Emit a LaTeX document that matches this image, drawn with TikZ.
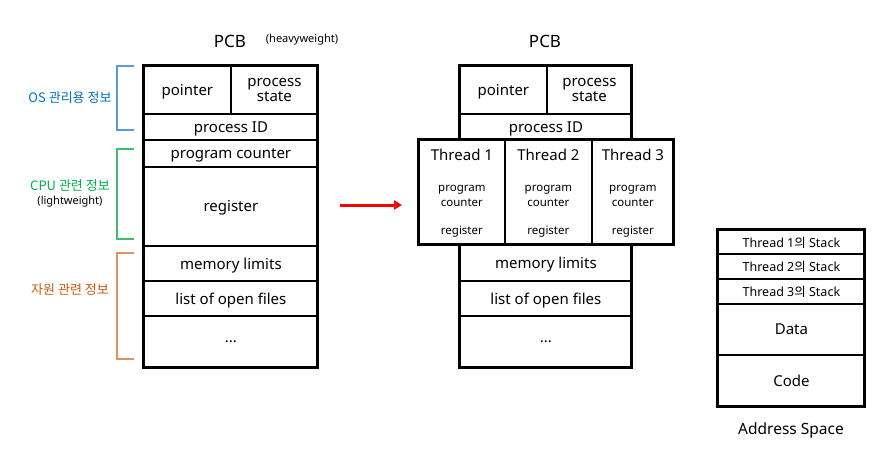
\documentclass[tikz,border=0pt]{standalone}
\usepackage{fontspec}
\setmainfont{Noto Sans}
\newfontfamily\kr{Noto Sans CJK KR}
\usetikzlibrary{arrows.meta,positioning}
\definecolor{osblue}{HTML}{0070C0}
\definecolor{osbracket}{HTML}{5B9BD5}
\definecolor{cpugreen}{HTML}{00B050}
\definecolor{cpubracket}{HTML}{3DBE6E}
\definecolor{resorange}{HTML}{C55A11}
\definecolor{resbracket}{HTML}{E0925E}
\tikzset{font=\fontsize{15}{17}\selectfont}
\tikzset{cell/.style={draw, line width=1.8pt, inner sep=0pt, anchor=north west, align=center, text depth=0pt}}
\tikzset{outline/.style={line width=3pt}}
\tikzset{small/.style={font=\fontsize{11.5}{14}\selectfont, align=center}}
\tikzset{tiny/.style={font=\fontsize{11}{12}\selectfont}}
\tikzset{stackcell/.style={cell, font=\fontsize{12.5}{15}\selectfont}}
\tikzset{krlabel/.style={font=\kr\fontsize{13}{15}\selectfont}}

\begin{document}
\begin{tikzpicture}[x=1pt,y=-1pt]
  \useasboundingbox (0,0) rectangle (888,459);
  % titles
  \node (pcbtitle) at (230,41) {\fontsize{17}{20}\selectfont PCB};
  \node[tiny] (heavy) at (302,40) {(heavyweight)};
  \node (pcbtitle2) at (545,41) {\fontsize{17}{20}\selectfont PCB};
  \node (astitle) at (791,430) {\fontsize{15.5}{18}\selectfont Address Space};

  % left PCB
  \node[cell, minimum width=87, minimum height=48] (pointer) at (143,65) {pointer};
  \node[cell, minimum width=87, minimum height=48] (state) at (230,65) {process\\[-2pt]state};
  \node[cell, minimum width=174, minimum height=26] (pid) at (143,113) {process ID};
  \node[cell, minimum width=174, minimum height=27] (pc) at (143,139) {program counter};
  \node[cell, minimum width=174, minimum height=79] (reg) at (143,166) {register};
  \node[cell, minimum width=174, minimum height=35] (mem) at (143,245) {memory limits};
  \node[cell, minimum width=174, minimum height=35] (files) at (143,280) {list of open files};
  \node[cell, minimum width=174, minimum height=52] (dots) at (143,315) {...};
  \draw[outline] (143,65) rectangle (317,367);

  % brackets
  \draw[osbracket, line width=1.5pt] (134,66) -- (117,66) -- (117,130) -- (134,130);
  \draw[cpubracket, line width=1.5pt] (134,149) -- (117,149) -- (117,239) -- (134,239);
  \draw[resbracket, line width=1.5pt] (134,253) -- (117,253) -- (117,359) -- (134,359);
  \node[krlabel, osblue] (oslabel) at (70,98) {OS 관리용 정보};
  \node[krlabel, cpugreen] (cpulabel) at (70,186) {CPU 관련 정보};
  \node[tiny] (light) at (70,202) {(lightweight)};
  \node[krlabel, resorange] (reslabel) at (70,290) {자원 관련 정보};

  % arrow
  \coordinate (arrowtail) at (340,205);
  \coordinate (arrowhead) at (402,205);
  \draw[red, line width=3pt, -{Triangle[length=8pt,width=9pt]}] (arrowtail) -- (arrowhead);

  % right PCB
  \node[cell, minimum width=87, minimum height=48] (pointer2) at (459,65) {pointer};
  \node[cell, minimum width=85, minimum height=48] (state2) at (546,65) {process\\[-2pt]state};
  \node[cell, minimum width=172, minimum height=26] (pid2) at (459,113) {process ID};
  \foreach \i/\x/\w in {1/418/86,2/504/87,3/591/82} {
    \node[cell, minimum width=\w, minimum height=105] (t\i) at (\x,139) {};
    \path (t\i.north) ++(0,16) node (t\i title) {Thread \i};
    \path (t\i.north) ++(0,57) node[small] (t\i pc) {program\\[0.5pt]counter};
    \path (t\i.north) ++(0,93) node[small] (t\i reg) {register};
  }
  \node[cell, minimum width=172, minimum height=36] (mem2) at (459,244) {memory limits};
  \node[cell, minimum width=172, minimum height=35] (files2) at (459,280) {list of open files};
  \node[cell, minimum width=172, minimum height=52] (dots2) at (459,315) {...};
  \draw[outline] (459,65) rectangle (631,139);
  \draw[outline] (418,139) rectangle (673,244);
  \draw[outline] (459,244) rectangle (631,367);

  % address space
  \node[stackcell, minimum width=147, minimum height=24] (s1) at (717,229) {Thread 1{\kr 의} Stack};
  \node[stackcell, minimum width=147, minimum height=25] (s2) at (717,253) {Thread 2{\kr 의} Stack};
  \node[stackcell, minimum width=147, minimum height=25] (s3) at (717,278) {Thread 3{\kr 의} Stack};
  \node[cell, minimum width=147, minimum height=51] (data) at (717,303) {Data};
  \node[cell, minimum width=147, minimum height=52] (code) at (717,354) {Code};
  \draw[outline] (717,229) rectangle (864,406);
\end{tikzpicture}
\end{document}
